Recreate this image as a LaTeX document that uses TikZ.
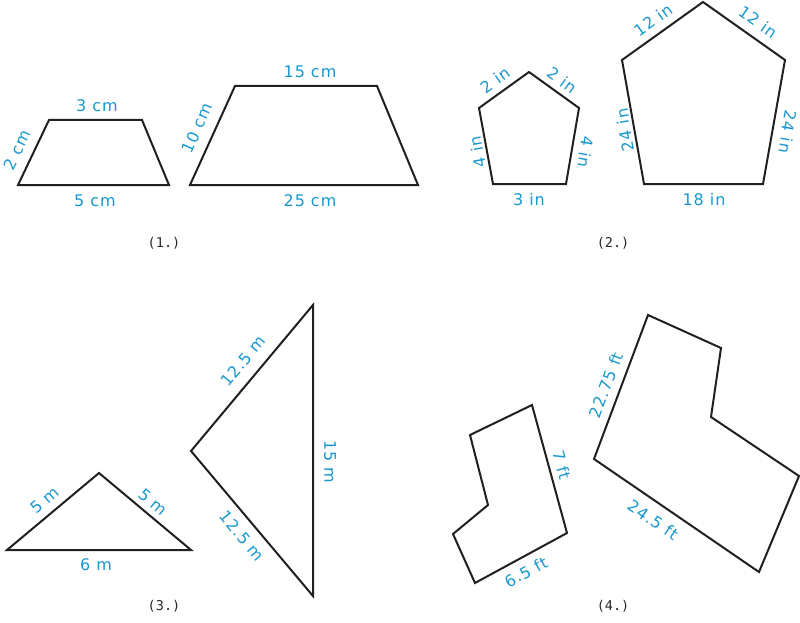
\documentclass[tikz,border=0pt]{standalone}
\usepackage{fontspec}
\setmainfont{DejaVu Sans}[LetterSpace=6]
\newfontfamily\capfont{DejaVu Sans Mono}
\definecolor{lbl}{RGB}{24,152,206}
\definecolor{edge}{RGB}{35,31,32}
\begin{document}
\begin{tikzpicture}[x=1pt,y=-1pt,
  outline/.style={draw=edge,line width=2pt,line join=miter},
  lab/.style={text=lbl,font=\fontsize{16}{17}\selectfont,inner sep=0pt},
  captext/.style={text=black!85,font=\capfont\fontsize{13.5}{14}\selectfont,inner sep=0pt}]
\path[use as bounding box] (0,0) rectangle (800,623);
% (1.) trapezoids
\draw[outline] (18,185) -- (49,120) -- (142,120) -- (169,185) -- cycle;
\node[lab] (t1a) at (97,106) {3 cm};
\node[lab] (t1b) at (95,201) {5 cm};
\node[lab,rotate=64.5] (t1c) at (17,150) {2 cm};
\draw[outline] (190,185) -- (235,86) -- (377,86) -- (418,185) -- cycle;
\node[lab] (t2a) at (310,72) {15 cm};
\node[lab] (t2b) at (310,201) {25 cm};
\node[lab,rotate=65.6] (t2c) at (197,128) {10 cm};
\node[captext] (c1) at (164,243) {(1.)};
% (2.) pentagons
\draw[outline] (529,72) -- (579,108) -- (566,184) -- (493,184) -- (479,108) -- cycle;
\node[lab,rotate=35.8] (p1a) at (495,80) {2 in};
\node[lab,rotate=-35.8] (p1b) at (562,80) {2 in};
\node[lab,rotate=100] (p1c) at (478,152) {4 in};
\node[lab,rotate=-100] (p1d) at (586,152) {4 in};
\node[lab] (p1e) at (529,200) {3 in};
\draw[outline] (703,2) -- (785,60) -- (763,184) -- (644,184) -- (622,60) -- cycle;
\node[lab,rotate=35.6] (p2a) at (653,20) {12 in};
\node[lab,rotate=-35.6] (p2b) at (758,22) {12 in};
\node[lab,rotate=100] (p2c) at (625,130) {24 in};
\node[lab,rotate=-100] (p2d) at (788,132) {24 in};
\node[lab] (p2e) at (704,200) {18 in};
\node[captext] (c2) at (613,243) {(2.)};
% (3.) triangles
\draw[outline] (7,550) -- (99,473) -- (191,550) -- cycle;
\node[lab,rotate=39.9] (r1a) at (45,500) {5 m};
\node[lab,rotate=-39.9] (r1b) at (153,502) {5 m};
\node[lab] (r1c) at (96,565) {6 m};
\draw[outline] (313,305) -- (191,451) -- (313,596) -- cycle;
\node[lab,rotate=50.1] (r2a) at (243,361) {12.5 m};
\node[lab,rotate=-50] (r2b) at (242,536) {12.5 m};
\node[lab,rotate=-90] (r2c) at (330,462) {15 m};
\node[captext] (c3) at (164,606) {(3.)};
% (4.) L-shapes
\draw[outline] (470,435) -- (532,405) -- (567,533) -- (475,583) -- (453,534) -- (488,505) -- cycle;
\node[lab,rotate=-74.7] (l1a) at (562,465) {7 ft};
\node[lab,rotate=28.5] (l1b) at (526,572) {6.5 ft};
\draw[outline] (648,315) -- (721,348) -- (711,417) -- (799,476) -- (759,572) -- (594,459) -- cycle;
\node[lab,rotate=69.4] (l2a) at (606,385) {22.75 ft};
\node[lab,rotate=-34.4] (l2b) at (653,520) {24.5 ft};
\node[captext] (c4) at (613,606) {(4.)};
\end{tikzpicture}
\end{document}
